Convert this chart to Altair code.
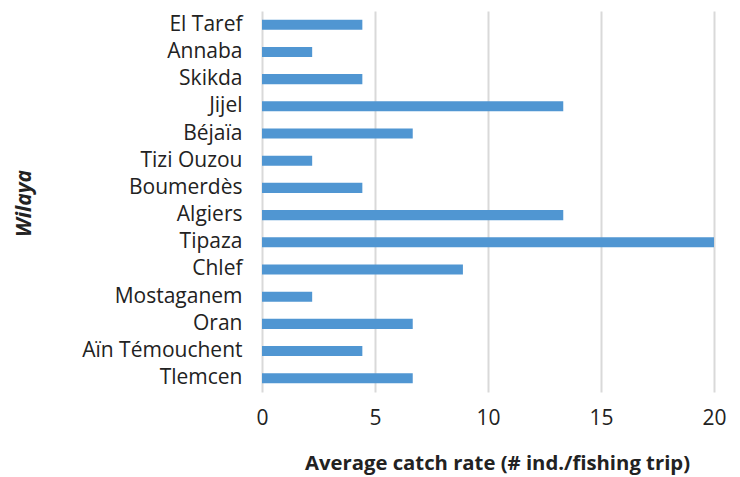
import altair as alt
import pandas as pd

wilayas = ["El Taref", "Annaba", "Skikda", "Jijel", "Béjaïa", "Tizi Ouzou", "Boumerdès",
           "Algiers", "Tipaza", "Chlef", "Mostaganem", "Oran", "Aïn Témouchent", "Tlemcen"]
catch_rate = [4.44, 2.22, 4.44, 13.33, 6.67, 2.22, 4.44, 13.33, 20.0, 8.89, 2.22, 6.67, 4.44, 6.67]
x_ticks = [0, 5, 10, 15, 20]

df = pd.DataFrame({"wilaya": wilayas, "rate": catch_rate})

FONT = "Open Sans"

chart = alt.Chart(df).mark_bar(color="#5096d2").encode(
    x=alt.X("rate:Q",
            scale=alt.Scale(domain=[0, 20], nice=False),
            axis=alt.Axis(values=x_ticks, title="Average catch rate (# ind./fishing trip)",
                          grid=True, gridColor="#d9d9d9", gridWidth=2,
                          domain=False, ticks=False, labelFontSize=21, labelPadding=15,
                          labelFlush=False,
                          labelColor="#222222", labelFont=FONT,
                          titleFont=FONT, titleFontSize=20.3, titleFontWeight="bold",
                          titleColor="#222222", titlePadding=25, titleX=235,
                          titleAlign="center")),
    y=alt.Y("wilaya:N", sort=wilayas,
            scale=alt.Scale(paddingInner=0.63, paddingOuter=0.32),
            axis=alt.Axis(title="Wilaya", domain=False, ticks=False,
                          labelFontSize=21, labelPadding=20, labelColor="#222222", labelFont=FONT,
                          titleFont=FONT, titleFontSize=21, titleFontWeight="bold",
                          titleFontStyle="italic", titleColor="#222222",
                          titleX=-237.5, titleY=192, titleAngle=270,
                          titleAlign="center", titleBaseline="middle")),
).properties(
    width=452, height=381,
    autosize=alt.AutoSizeParams(type="none"),
    padding={"left": 254, "top": 3, "right": 18, "bottom": 86},
).configure_view(stroke=None).configure_axisY(grid=False)

chart.save("out.html", embed_options={"renderer": "svg", "actions": False})
